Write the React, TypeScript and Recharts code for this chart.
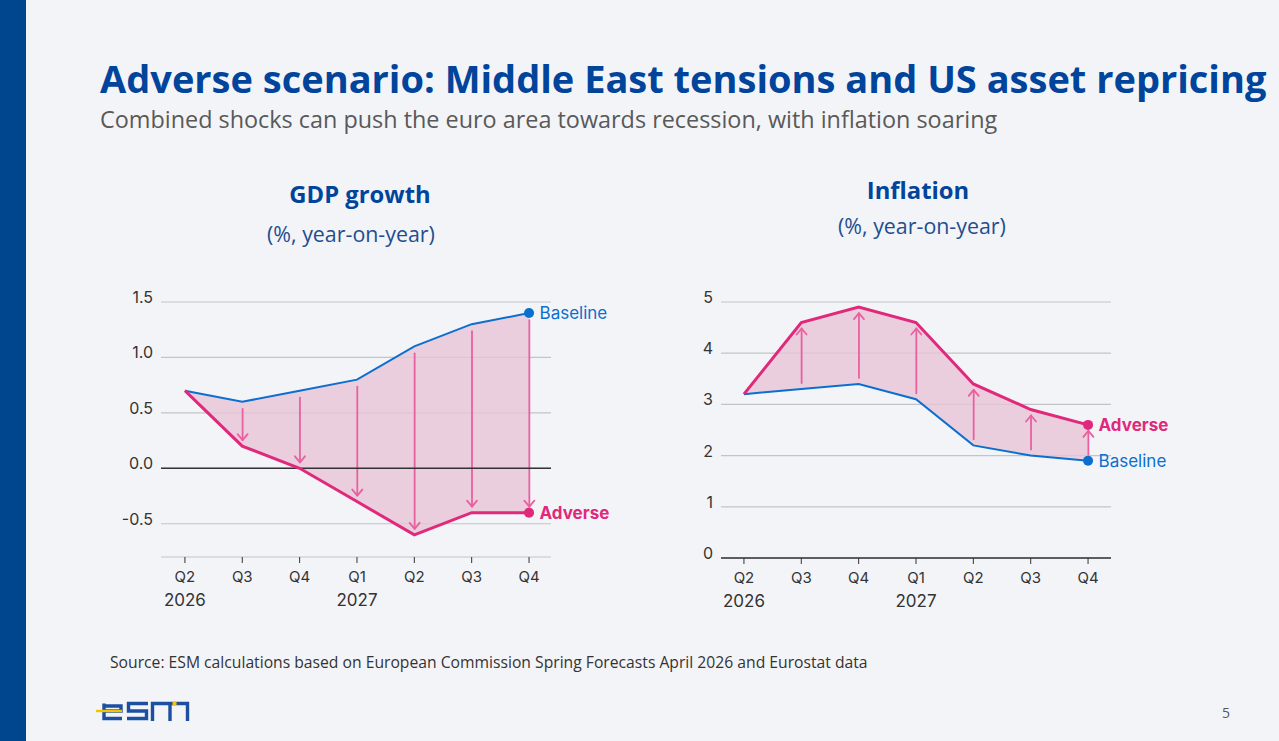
import React from 'react';
import { ComposedChart, Area, Bar, Line, XAxis, YAxis, CartesianGrid, ReferenceLine } from 'recharts';

const quarters = ['Q2', 'Q3', 'Q4', 'Q1', 'Q2', 'Q3', 'Q4'];
const years = ['2026', '', '', '2027', '', '', ''];

const gdpBaseline = [0.7, 0.6, 0.7, 0.8, 1.1, 1.3, 1.4];
const gdpAdverse = [0.7, 0.2, 0.0, -0.3, -0.6, -0.4, -0.4];
const gdpTicks = [-0.5, 0, 0.5, 1, 1.5];

const inflBaseline = [3.2, 3.3, 3.4, 3.1, 2.2, 2.0, 1.9];
const inflAdverse = [3.2, 4.6, 4.9, 4.6, 3.4, 2.9, 2.6];
const inflTicks = [0, 1, 2, 3, 4, 5];

const NAVY = '#00449b';
const BLUE = '#0a6fcf';
const PINK = '#e0297b';
const ARROW = '#e9609f';
const FILL = '#e9c4d7';
const GRID = '#c4c4c8';
const INK = '#333333';
const CHART_FONT = 'Inter, "Noto Sans", sans-serif';
const SLIDE_FONT = '"Open Sans", "Noto Sans", sans-serif';

const buildRows = (baseline: number[], adverse: number[]) =>
  quarters.map((q, i) => ({
    i,
    q,
    baseline: baseline[i],
    adverse: adverse[i],
    band: [Math.min(baseline[i], adverse[i]), Math.max(baseline[i], adverse[i])],
  }));

const gdpRows = buildRows(gdpBaseline, gdpAdverse);
const inflRows = buildRows(inflBaseline, inflAdverse);

// arrow from baseline towards adverse, drawn inside the bar's pixel extent
const ArrowShape = (props: any) => {
  const { x, y, width, height, dir } = props;
  const top = Math.min(y, y + height);
  const bottom = Math.max(y, y + height);
  if (!(bottom - top > 14)) return <g />;
  const cx = x + width / 2;
  const y0 = dir === 'down' ? top + 7 : bottom - 6;
  const y1 = dir === 'down' ? bottom - 6 : top + 6;
  const armY = dir === 'down' ? y1 - 6 : y1 + 6;
  return (
    <g stroke={ARROW} strokeWidth={1.8} fill="none" strokeLinecap="round" strokeLinejoin="round">
      <line x1={cx} y1={y0} x2={cx} y2={y1} />
      <polyline points={`${cx - 5},${armY} ${cx},${y1} ${cx + 5},${armY}`} />
    </g>
  );
};

const endDot = (color: string, label: string, bold: boolean) => (props: any) => {
  const { cx, cy, index } = props;
  if (index !== quarters.length - 1) return <g key={`d${index}`} />;
  return (
    <g key={`d${index}`}>
      <circle cx={cx} cy={cy} r={5} fill={color} />
      <text x={cx + 10.5} y={cy + 6} fill={color} fontSize={17} fontWeight={bold ? 700 : 400} fontFamily={CHART_FONT}>
        {label}
      </text>
    </g>
  );
};

const QuarterTick = (props: any) => {
  const { x, y, payload } = props;
  const i = payload.value;
  return (
    <g>
      <text x={x} y={y + 17} textAnchor="middle" fontSize={15} fill={INK} fontFamily={CHART_FONT}>
        {quarters[i]}
      </text>
      {years[i] && (
        <text x={x} y={y + 41} textAnchor="middle" fontSize={17} fill={INK} fontFamily={CHART_FONT}>
          {years[i]}
        </text>
      )}
    </g>
  );
};

const makeYTick = (digits: number) => (props: any) => (
  <text x={props.x} y={props.y + 1} textAnchor="end" fontSize={16} fill={INK} fontFamily={CHART_FONT}>
    {Number(props.payload.value).toFixed(digits)}
  </text>
);

interface PanelProps {
  rows: any[];
  yDomain: [number, number];
  yTicks: number[];
  xDomain: [number, number];
  digits: number;
  dir: 'up' | 'down';
  left: number;
  axisHeight: number;
  zeroAxis: boolean;
}

const Panel: React.FC<PanelProps> = ({ rows, yDomain, yTicks, xDomain, digits, dir, left, axisHeight, zeroAxis }) => (
  <div style={{ position: 'absolute', left, top: 280 }}>
    <ComposedChart width={530} height={340} data={rows} margin={{ top: 22, right: 79, bottom: 0, left: 0 }}>
      <CartesianGrid vertical={false} stroke={GRID} strokeWidth={1.2} />
      <XAxis
        type="number"
        dataKey="i"
        domain={xDomain}
        ticks={quarters.map((_, i) => i)}
        interval={0}
        height={axisHeight}
        axisLine={zeroAxis ? { stroke: INK, strokeWidth: 1.5 } : false}
        tickLine={{ stroke: INK }}
        tick={<QuarterTick />}
      />
      <YAxis
        domain={yDomain}
        ticks={yTicks}
        interval={0}
        width={61}
        axisLine={false}
        tickLine={false}
        tick={makeYTick(digits)}
      />
      {!zeroAxis && <ReferenceLine y={0} stroke={INK} strokeWidth={1.5} />}
      <Area dataKey="band" type="linear" stroke="none" fill={FILL} fillOpacity={0.8} isAnimationActive={false} />
      <Bar dataKey="band" barSize={14} shape={(p: any) => <ArrowShape {...p} dir={dir} />} isAnimationActive={false} />
      <Line dataKey="baseline" type="linear" stroke={BLUE} strokeWidth={2} dot={endDot(BLUE, 'Baseline', false)} activeDot={false} isAnimationActive={false} />
      <Line dataKey="adverse" type="linear" stroke={PINK} strokeWidth={3} dot={endDot(PINK, 'Adverse', true)} activeDot={false} isAnimationActive={false} />
    </ComposedChart>
  </div>
);

const Logo = () => (
  <g stroke="#1c4fa0" strokeWidth={3.4} fill="none">
    <path d="M104 706 H121 V711 H104 M104 703.5 V718.5 H122" />
    <path d="M148 703.5 H128.5 V711 H146.5 V718.5 H127" />
    <path d="M152.5 721 V703.5 H187.5 V721 M170 703.5 V721" />
    <line x1={96} y1={711} x2={122} y2={711} stroke="#f5c400" strokeWidth={2.4} />
    <rect x={172.5} y={702} width={4} height={3.5} fill="#f5c400" stroke="none" />
  </g>
);

const App: React.FC = () => (
  <div style={{ position: 'absolute', left: 0, top: 0, width: 1279, height: 741, background: '#f3f4f8', overflow: 'hidden' }}>
    <svg width={1279} height={741} style={{ position: 'absolute', left: 0, top: 0 }}>
      <rect x={0} y={0} width={26} height={741} fill="#00468e" />
      <text x={100} y={93} fontSize={38} fontWeight={700} fill={NAVY} fontFamily={SLIDE_FONT}>
        Adverse scenario: Middle East tensions and US asset repricing
      </text>
      <text x={100} y={128} fontSize={23.4} fill="#595959" fontFamily={SLIDE_FONT}>
        Combined shocks can push the euro area towards recession, with inflation soaring
      </text>
      <text x={360} y={203} textAnchor="middle" fontSize={23.8} fontWeight={700} fill={NAVY} fontFamily={SLIDE_FONT}>
        GDP growth
      </text>
      <text x={351} y={242} textAnchor="middle" fontSize={21.4} fill="#1f4e8f" fontFamily={SLIDE_FONT}>
        (%, year-on-year)
      </text>
      <text x={918} y={199} textAnchor="middle" fontSize={23.8} fontWeight={700} fill={NAVY} fontFamily={SLIDE_FONT}>
        Inflation
      </text>
      <text x={922} y={234} textAnchor="middle" fontSize={21.4} fill="#1f4e8f" fontFamily={SLIDE_FONT}>
        (%, year-on-year)
      </text>
      <text x={110} y={668} fontSize={15.7} fill={INK} fontFamily={SLIDE_FONT}>
        Source: ESM calculations based on European Commission Spring Forecasts April 2026 and Eurostat data
      </text>
      <text x={1222} y={718} fontSize={14} fill="#595959" fontFamily={SLIDE_FONT}>
        5
      </text>
      <Logo />
    </svg>
    <Panel rows={gdpRows} yDomain={[-0.8, 1.5]} yTicks={gdpTicks} xDomain={[-0.417, 6.383]} digits={1} dir="down" left={100} axisHeight={63} zeroAxis={false} />
    <Panel rows={inflRows} yDomain={[0, 5]} yTicks={inflTicks} xDomain={[-0.4, 6.4]} digits={0} dir="up" left={660} axisHeight={62} zeroAxis={true} />
  </div>
);

export default App;
